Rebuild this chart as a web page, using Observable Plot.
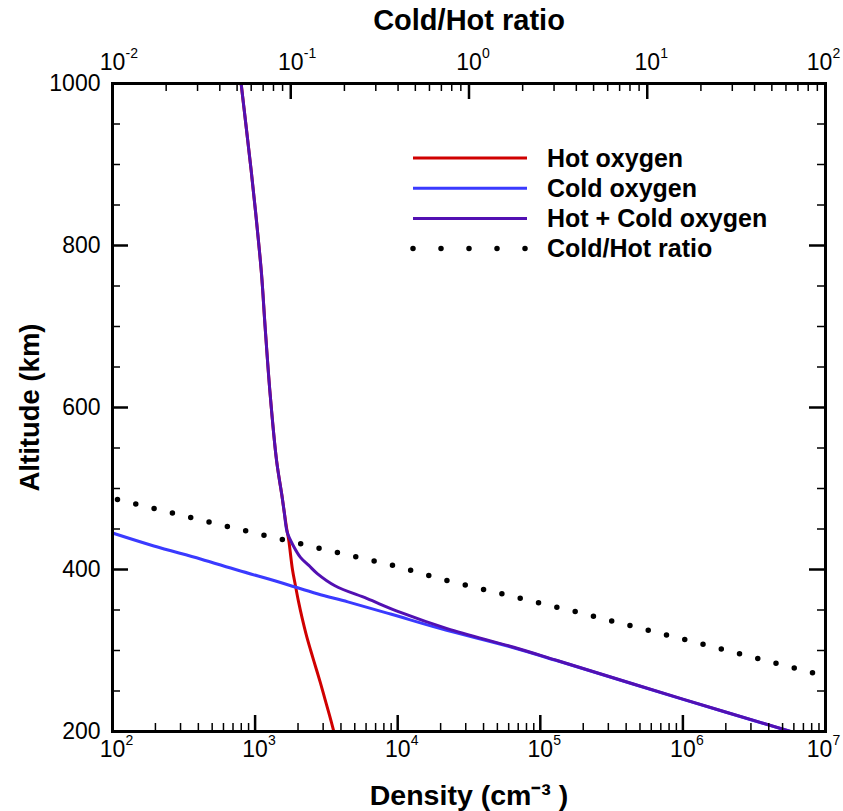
<!DOCTYPE html>
<html><head><meta charset="utf-8">
<script src="https://cdn.jsdelivr.net/npm/d3@7"></script>
<script src="https://cdn.jsdelivr.net/npm/@observablehq/plot@0.6"></script>
<style>
body{margin:0;background:#fff;}
#wrap{position:relative;width:843px;height:811px;}
#wrap svg{position:absolute;left:0;top:0;}
</style></head><body><div id="wrap"></div>
<script>
// ---- data ----
const hotAltitude = [1000, 950, 893, 830, 765, 700, 617, 535, 489, 470, 450, 436, 400, 380, 360, 340, 320, 300, 280, 260, 240, 220, 200];
const hotDensity  = [798, 861, 938, 1023, 1109, 1175, 1274, 1413, 1549, 1603, 1667, 1722, 1828, 1919, 2018, 2138, 2280, 2455, 2655, 2871, 3090, 3327, 3565];

const coldAltitude = [445, 429, 413, 399, 384, 370, 360, 345, 327, 304, 287, 240, 200];
const coldDensity  = [100, 195, 414, 759, 1507, 2729, 4467, 8913, 19950, 63100, 133400, 988600, 5690000];

const totalAltitude = [1000, 950, 893, 830, 765, 700, 617, 535, 489, 470, 446, 430, 415, 405, 395, 380, 364, 347, 327, 304, 287, 240, 200];
const totalDensity  = [798, 861, 938, 1023, 1109, 1175, 1274, 1413, 1549, 1603, 1679, 1845, 2080, 2382, 2729, 3631, 6109, 10470, 22230, 65160, 134900, 1000000, 5690000];

const ratioAltitude = [488, 486, 442, 405, 386, 348, 302, 273, 269];
const ratioValue    = [0.0100, 0.0108, 0.0714, 0.376, 0.764, 3.95, 26.0, 83.2, 100];

const densityTicks = [1e2, 1e3, 1e4, 1e5, 1e6, 1e7];
const densityExponents = ["2", "3", "4", "5", "6", "7"];
const ratioTicks = [1e-2, 1e-1, 1e0, 1e1, 1e2];
const ratioExponents = ["-2", "-1", "0", "1", "2"];
const altitudeTicks = [200, 400, 600, 800, 1000];
const altitudeMinorTicks = [250, 300, 350, 450, 500, 550, 650, 700, 750, 850, 900, 950];
const minorMultipliers = [2, 3, 4, 5, 6, 7, 8, 9];

const legendLabels = ["Hot oxygen", "Cold oxygen", "Hot + Cold oxygen", "Cold/Hot ratio"];

// ---- tables ----
const hot = hotAltitude.map((a, i) => ({alt: a, d: hotDensity[i]}));
const cold = coldAltitude.map((a, i) => ({alt: a, d: coldDensity[i]}));
const total = totalAltitude.map((a, i) => ({alt: a, d: totalDensity[i]}));
const ratio = ratioAltitude.map((a, i) => ({alt: a, r: ratioValue[i]}));
const densityMinor = densityTicks.slice(0, -1).flatMap(t => minorMultipliers.map(m => t * m));
const ratioMinor = ratioTicks.slice(0, -1).flatMap(t => minorMultipliers.map(m => t * m));
const densityLabels = densityTicks.map((t, i) => ({t, e: densityExponents[i], last: i === densityTicks.length - 1}));
const ratioLabels = ratioTicks.map((t, i) => ({t, e: ratioExponents[i], last: i === ratioTicks.length - 1}));

// ---- layout ----
const W = 843, H = 811, mL = 112, mR = 18, mT = 83, mB = 80;
const fw = W - mL - mR, fh = H - mT - mB;
const FONT = "'Liberation Sans', Arial, Helvetica, sans-serif";
const RED = "#d00000", BLUE = "#3a3aff", PURPLE = "#5210b2";
const MAJ = 16, MIN = 8;
const lineOpts = {strokeWidth: 3, clip: true, curve: "catmull-rom"};

function tickLabels(labels, anchor, dyBase, dyExp) {
  const inner = labels.filter(d => !d.last), last = labels.filter(d => d.last);
  const common = {x: "t", frameAnchor: anchor, lineAnchor: "middle"};
  return [
    Plot.text(inner, {...common, text: () => "10", dy: dyBase, fontSize: 23, textAnchor: "middle"}),
    Plot.text(inner, {...common, text: "e", dx: 13, dy: dyExp, fontSize: 14, textAnchor: "start"}),
    Plot.text(last, {...common, text: () => "10", dx: -6, dy: dyBase, fontSize: 23, textAnchor: "middle"}),
    Plot.text(last, {...common, text: "e", dx: 7, dy: dyExp, fontSize: 14, textAnchor: "start"})
  ];
}

const basePlot = Plot.plot({
  width: W, height: H,
  marginLeft: mL, marginRight: mR, marginTop: mT, marginBottom: mB,
  x: {type: "log", domain: [1e2, 1e7], axis: null},
  y: {domain: [200, 1000], axis: null},
  style: {fontFamily: FONT, background: "white", color: "black"},
  marks: [
    Plot.line(hot, {x: "d", y: "alt", stroke: RED, ...lineOpts}),
    Plot.line(cold, {x: "d", y: "alt", stroke: BLUE, ...lineOpts}),
    Plot.line(total, {x: "d", y: "alt", stroke: PURPLE, ...lineOpts}),
    Plot.tickX(densityMinor, {x: d => d, insetTop: fh - MIN, strokeWidth: 1.5}),
    Plot.tickX(densityTicks, {x: d => d, insetTop: fh - MAJ, strokeWidth: 2.5}),
    Plot.tickY(altitudeMinorTicks, {y: d => d, insetRight: fw - MIN, strokeWidth: 1.5}),
    Plot.tickY(altitudeMinorTicks, {y: d => d, insetLeft: fw - MIN, strokeWidth: 1.5}),
    Plot.tickY(altitudeTicks, {y: d => d, insetRight: fw - MAJ, strokeWidth: 2.5}),
    Plot.tickY(altitudeTicks, {y: d => d, insetLeft: fw - MAJ, strokeWidth: 2.5}),
    Plot.frame({strokeWidth: 3}),
    ...tickLabels(densityLabels, "bottom", 18, 9),
    Plot.text(altitudeTicks, {y: d => d, text: d => String(d), frameAnchor: "left", dx: -12, textAnchor: "end", lineAnchor: "middle", fontSize: 23}),
    Plot.text(["Density (cm\u207B\u00B3 )"], {frameAnchor: "bottom", dy: 64, lineAnchor: "middle", textAnchor: "middle", fontSize: 28.5, fontWeight: "bold"}),
    Plot.text(["Altitude (km)"], {frameAnchor: "left", dx: -82, rotate: -90, textAnchor: "middle", lineAnchor: "middle", fontSize: 27.5, fontWeight: "bold"})
  ]
});

const ratioPlot = Plot.plot({
  width: W, height: H,
  marginLeft: mL, marginRight: mR, marginTop: mT, marginBottom: mB,
  x: {type: "log", domain: [1e-2, 1e2], axis: null},
  y: {domain: [200, 1000], axis: null},
  style: {fontFamily: FONT, background: "transparent", color: "black"},
  marks: [
    Plot.line(ratio, {x: "r", y: "alt", stroke: "black", strokeWidth: 5.5, strokeLinecap: "round", strokeDasharray: "0 18.85", strokeDashoffset: 13.7}),
    Plot.tickX(ratioMinor, {x: d => d, insetBottom: fh - MIN, strokeWidth: 1.5}),
    Plot.tickX(ratioTicks, {x: d => d, insetBottom: fh - MAJ, strokeWidth: 2.5}),
    ...tickLabels(ratioLabels, "top", -21, -30),
    Plot.text(["Cold/Hot ratio"], {frameAnchor: "top", dy: -63, lineAnchor: "middle", textAnchor: "middle", fontSize: 29, fontWeight: "bold"})
  ]
});

const wrap = document.getElementById("wrap");
wrap.appendChild(basePlot);
wrap.appendChild(ratioPlot);

// legend
const lg = d3.select(ratioPlot).append("g").attr("font-family", FONT).attr("text-anchor", "start");
const colors = [RED, BLUE, PURPLE, "black"];
legendLabels.forEach((lab, i) => {
  const y = 158 + i * 30.2;
  const ln = lg.append("line").attr("x1", 413).attr("x2", 527).attr("y1", y).attr("y2", y)
    .attr("stroke", colors[i]);
  if (i === 3) ln.attr("stroke-width", 5.5).attr("stroke-linecap", "round").attr("stroke-dasharray", "0 28");
  else ln.attr("stroke-width", 3);
  lg.append("text").attr("x", 547).attr("y", y).attr("dy", "0.35em").attr("text-anchor", "start")
    .attr("font-size", 25).attr("font-weight", "bold").attr("fill", "black").text(lab);
});
</script></body></html>
